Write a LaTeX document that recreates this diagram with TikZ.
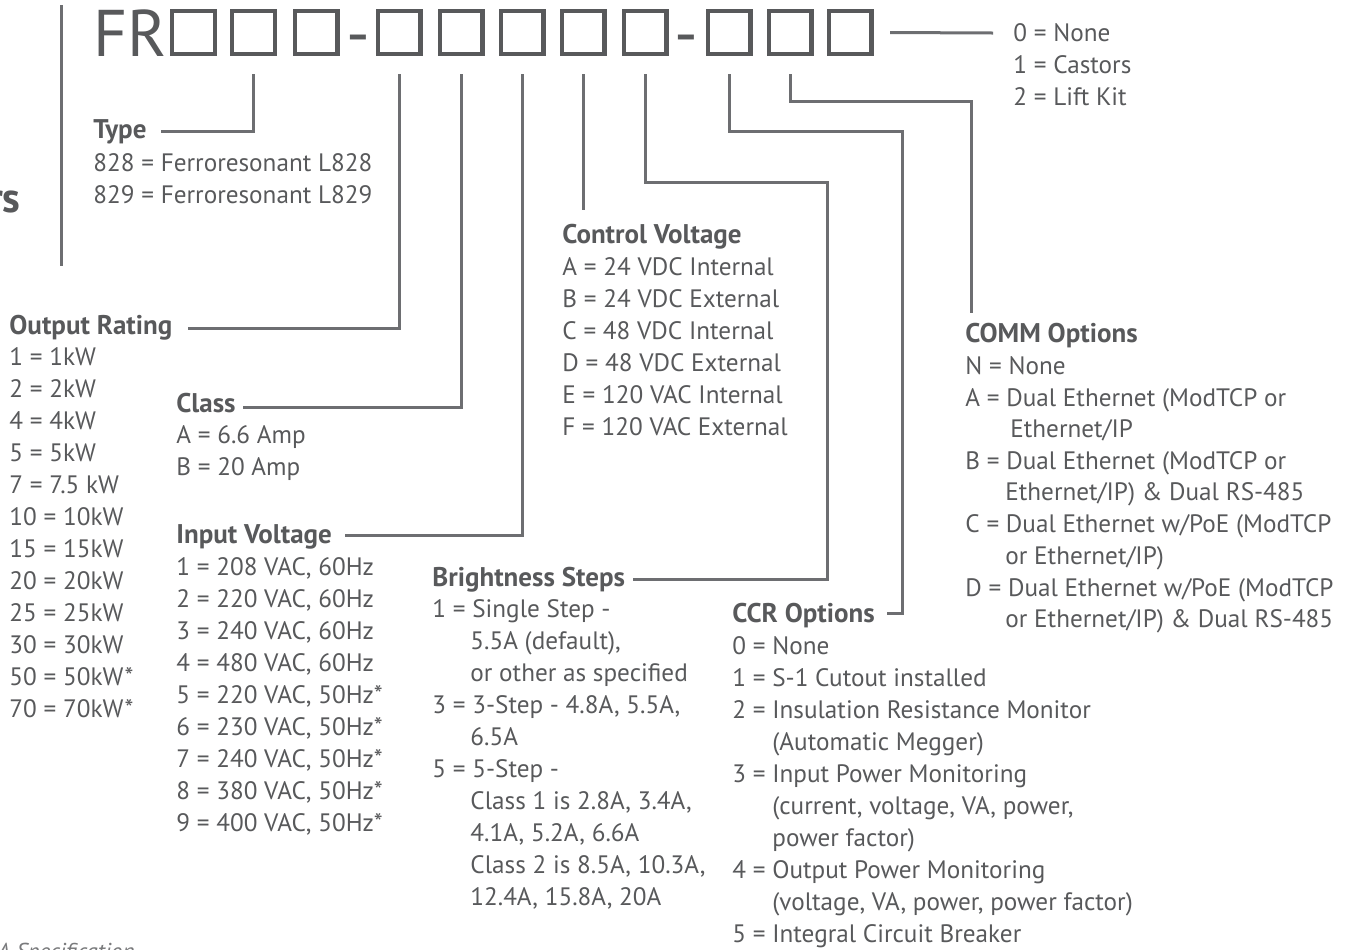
\documentclass[tikz,border=0pt]{standalone}
\usepackage{fontspec}
\setmainfont{PT Sans}
\definecolor{txt}{HTML}{58595B}
\definecolor{ln}{HTML}{6D6E71}
\tikzset{
 item/.style={anchor=base west, inner sep=0pt, text=txt, font=\fontsize{12.6}{14}\selectfont},
 head/.style={item, font=\fontsize{13.5}{15}\selectfont\bfseries},
 conn/.style={draw=ln, line width=1.5pt},
 digit/.style={draw=txt, line width=2.2pt, minimum width=21.3pt, minimum height=21.3pt, inner sep=0pt},
 big/.style={inner sep=0pt, text=txt, font=\fontsize{33}{33}\selectfont},
}
\begin{document}
\begin{tikzpicture}[x=0.5pt,y=-0.5pt]
\useasboundingbox (0,0) rectangle (1350,949);
\clip (0,0) rectangle (1350,949);
% left rule and cut text
\coordinate (r1) at (61,5); \coordinate (r2) at (61,266);
\draw[conn] (r1) -- (r2);
\node[anchor=base east, inner sep=0pt, text=txt, font=\fontsize{21}{21}\selectfont\bfseries] (rs) at (21,212) {rs};
\node[anchor=base west, inner sep=0pt, text=txt!80, font=\fontsize{11.5}{13}\selectfont\itshape] (spec) at (-3,959) {A Specification};
% title
\node[big, anchor=base west] (fr) at (93,56) {FR};
\foreach \n/\cx in {1/193.5,2/253.5,3/316,4/399,5/461,6/522,7/583,8/645,9/729,10/790,11/850}
  \node[digit] (b\n) at (\cx,32.5) {};
\node[big, anchor=base] (h1) at (358.5,56) {-};
\node[big, anchor=base] (h2) at (686,56) {-};
% Type
\node[head] (type) at (93,138) {Type};
\node[item] (t1) at (93,171) {828 = Ferroresonant L828};
\node[item] (t2) at (93,203) {829 = Ferroresonant L829};
\coordinate (eT) at (161,131);
\draw[conn] ([yshift=-9pt]b2.south) |- (eT);
% Output rating
\node[head] (orat) at (9,334) {Output Rating};
\foreach \t [count=\i from 0] in {1 = 1kW, 2 = 2kW, 4 = 4kW, 5 = 5kW, 7 = 7.5 kW, 10 = 10kW, 15 = 15kW, 20 = 20kW, 25 = 25kW, 30 = 30kW, 50 = 50kW*, 70 = 70kW*}
  \node[item] (o\i) at (9,365+32*\i) {\t};
\coordinate (eO) at (188,328);
\draw[conn] ([yshift=-9pt]b4.south) |- (eO);
% Class
\node[head] (cls) at (176,412) {Class};
\node[item] (c1) at (176,443) {A = 6.6 Amp};
\node[item] (c2) at (176,475) {B = 20 Amp};
\coordinate (eC) at (243,407);
\draw[conn] ([yshift=-9pt]b5.south) |- (eC);
% Input voltage
\node[head] (inv) at (176,543) {Input Voltage};
\foreach \t [count=\i from 0] in {{1 = 208 VAC, 60Hz},{2 = 220 VAC, 60Hz},{3 = 240 VAC, 60Hz},{4 = 480 VAC, 60Hz},{5 = 220 VAC, 50Hz*},{6 = 230 VAC, 50Hz*},{7 = 240 VAC, 50Hz*},{8 = 380 VAC, 50Hz*},{9 = 400 VAC, 50Hz*}}
  \node[item] (iv\i) at (176,575+32*\i) {\t};
\coordinate (eI) at (345,535);
\draw[conn] ([yshift=-9pt]b6.south) |- (eI);
% Control voltage
\node[head] (ctl) at (562,243) {Control Voltage};
\foreach \t [count=\i from 0] in {A = 24 VDC Internal, B = 24 VDC External, C = 48 VDC Internal, D = 48 VDC External, E = 120 VAC Internal, F = 120 VAC External}
  \node[item] (cv\i) at (562,275+32*\i) {\t};
\coordinate (eV) at (583,210);
\draw[conn] ([yshift=-9pt]b7.south) -- (eV);
% Brightness steps
\node[head] (bri) at (432,586) {Brightness Steps};
\node[item] (bs1) at (432,617) {1 = Single Step -};
\node[item] (bs2) at (470,649) {5.5A (default),};
\node[item] (bs3) at (470,681) {or other as specified};
\node[item] (bs4) at (432,713) {3 = 3-Step - 4.8A, 5.5A,};
\node[item] (bs5) at (470,745) {6.5A};
\node[item] (bs6) at (432,777) {5 = 5-Step -};
\node[item] (bs7) at (470,809) {Class 1 is 2.8A, 3.4A,};
\node[item] (bs8) at (470,841) {4.1A, 5.2A, 6.6A};
\node[item] (bs9) at (470,873) {Class 2 is 8.5A, 10.3A,};
\node[item] (bs10) at (470,905) {12.4A, 15.8A, 20A};
\coordinate (kB) at (827,182); \coordinate (eB) at (633,579);
\draw[conn] ([yshift=-9pt]b8.south) |- (kB) |- (eB);
% CCR options
\node[head] (ccr) at (732,622) {CCR Options};
\node[item] (cc0) at (732,654) {0 = None};
\node[item] (cc1) at (732,686) {1 = S-1 Cutout installed};
\node[item] (cc2) at (732,718) {2 = Insulation Resistance Monitor};
\node[item] (cc3) at (772,750) {(Automatic Megger)};
\node[item] (cc4) at (732,782) {3 = Input Power Monitoring};
\node[item] (cc5) at (772,814) {(current, voltage, VA, power,};
\node[item] (cc6) at (772,846) {power factor)};
\node[item] (cc7) at (732,878) {4 = Output Power Monitoring};
\node[item] (cc8) at (772,910) {(voltage, VA, power, power factor)};
\node[item] (cc9) at (732,942) {5 = Integral Circuit Breaker};
\coordinate (kC) at (902,131); \coordinate (eR) at (887,613);
\draw[conn] ([yshift=-9pt]b9.south) |- (kC) |- (eR);
% COMM options
\node[head] (com) at (965,342) {COMM Options};
\node[item] (cm0) at (965,374) {N = None};
\node[item] (cm1) at (965,406) {A = Dual Ethernet (ModTCP or};
\node[item] (cm2) at (1010,437) {Ethernet/IP};
\node[item] (cm3) at (965,469) {B = Dual Ethernet (ModTCP or};
\node[item] (cm4) at (1005,500) {Ethernet/IP) \& Dual RS-485};
\node[item] (cm5) at (965,532) {C = Dual Ethernet w/PoE (ModTCP};
\node[item] (cm6) at (1005,564) {or Ethernet/IP)};
\node[item] (cm7) at (965,596) {D = Dual Ethernet w/PoE (ModTCP};
\node[item] (cm8) at (1005,627) {or Ethernet/IP) \& Dual RS-485};
\coordinate (kM) at (971,101); \coordinate (eM) at (971,313);
\draw[conn] ([yshift=-9pt]b10.south) |- (kM) -- (eM);
% accessories
\node[item] (a0) at (1013,41) {0 = None};
\node[item] (a1) at (1013,73) {1 = Castors};
\node[item] (a2) at (1013,105) {2 = Lift Kit};
\coordinate (eA) at (993,33);
\draw[conn] ([xshift=8.3pt]b11.east) -- (eA);
\end{tikzpicture}
\end{document}
